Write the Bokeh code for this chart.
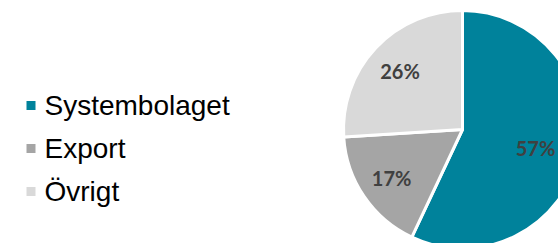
import math
from bokeh.plotting import figure
from bokeh.models import ColumnDataSource, Range1d
from bokeh.core.properties import value
from bokeh.embed import file_html
from bokeh.resources import INLINE

# Data
categories = ["Systembolaget", "Export", "Övrigt"]
shares = [57, 17, 26]
labels = ["57%", "17%", "26%"]
colors = ["#00829B", "#A5A5A5", "#D9D9D9"]

W, H = 558, 243
p = figure(width=W, height=H, output_backend="svg", toolbar_location=None,
           x_range=Range1d(0, W), y_range=Range1d(0, H), min_border=0)
p.axis.visible = False
p.grid.visible = False
p.outline_line_color = None
p.background_fill_color = "white"

# Pie geometry (layout)
cx, cy, R = 462, 114, 119
total = sum(shares)
starts, ends, lx, ly = [], [], [], []
a = math.pi / 2
half_label = 21
for v in shares:
    span = 2 * math.pi * v / total
    s, e = a, a - span
    starts.append(s)
    ends.append(e)
    mid = (s + e) / 2
    x = cx + 0.72 * R * math.cos(mid)
    y = cy + 0.72 * R * math.sin(mid)
    lx.append(min(x, W - 2 - half_label))
    ly.append(y)
    a = e

src = ColumnDataSource(dict(start=starts, end=ends, color=colors, label=labels,
                            lx=lx, ly=ly, cat=categories))
p.wedge(x=cx, y=cy, radius=R, start_angle="start", end_angle="end",
        direction="clock", fill_color="color", line_color="white",
        line_width=3, source=src)
p.text(x="lx", y="ly", text="label", source=src, text_align="center",
       text_baseline="middle", text_font=value("Lato"), text_font_style="bold",
       text_font_size="20px", text_color="#404040")

# Legend
n = len(categories)
mx = [30.5] * n
my = [138 - 43 * i for i in range(n)]
tx = [44] * n
ty = [138 - 43 * i for i in range(n)]
lsrc = ColumnDataSource(dict(mx=mx, my=my, tx=tx, ty=ty, cat=categories, color=colors))
p.scatter(x="mx", y="my", marker="square", size=9, fill_color="color",
          line_color=None, source=lsrc)
p.text(x="tx", y="ty", text="cat", source=lsrc, text_align="left",
       text_baseline="middle", text_font=value("Liberation Sans"),
       text_font_size="28px", text_color="#000000")

open("out.html", "w").write(file_html(p, INLINE))
